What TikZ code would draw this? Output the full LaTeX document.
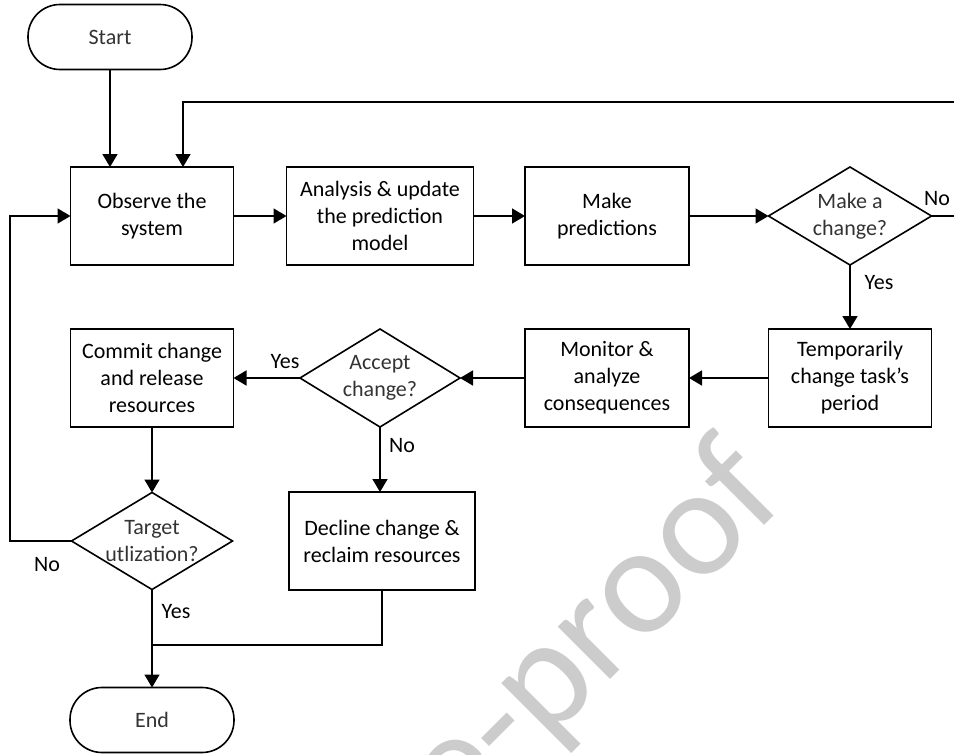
\documentclass[tikz,border=0pt]{standalone}
\usepackage{fontspec}
\setmainfont{Carlito}
\usetikzlibrary{arrows.meta,shapes.geometric}
\begin{document}
\begin{tikzpicture}[x=1pt,y=-1pt,
  line width=1.6pt,
  txt/.style={font=\fontsize{22}{27}\selectfont},
  box/.style={draw, txt, align=center, minimum height=98pt, inner sep=0pt, outer sep=0pt},
  term/.style={draw, txt, text=black!80, rounded corners=32pt, minimum width=164pt, minimum height=65pt, inner sep=0pt, outer sep=0pt},
  dec/.style={draw, diamond, minimum width=163pt, minimum height=98pt, inner sep=0pt, outer sep=0pt},
  dectext/.style={txt, text=black!80, align=center},
  lab/.style={txt, inner sep=0pt},
  arr/.style={-{Triangle[length=13pt,width=15pt]}}
]
\useasboundingbox (0,0) rectangle (954,755);
% watermark
\begin{scope}
\clip (0,0) rectangle (954,755);
\node[rotate=45, anchor=base east, text=black!20, inner sep=0pt, font=\fontsize{155}{155}\selectfont] (wm) at (790,500) {e-proof};
\end{scope}

\node[term] (start) at (110,37) {Start};
\node[box, minimum width=163pt] (obs) at (152,216) {Observe the\\system};
\node[box, minimum width=187pt] (ana) at (380,216) {Analysis \& update\\the prediction\\model};
\node[box, minimum width=164pt] (pred) at (607,216) {Make\\predictions};
\node[dec, label={[dectext]center:Make a\\change?}] (mc) at (850,216) {};
\node[box, minimum width=163pt] (temp) at (850,378) {Temporarily\\change task’s\\period};
\node[box, minimum width=164pt] (mon) at (607,378) {Monitor \&\\analyze\\consequences};
\node[dec, minimum width=160pt, label={[dectext]center:Accept\\change?}] (acc) at (380,378) {};
\node[box, minimum width=163pt] (com) at (152,378) {Commit change\\and release\\resources};
\node[box, minimum width=186pt] (decl) at (382,541) {Decline change \&\\reclaim resources};
\node[dec, minimum width=161pt, minimum height=97pt, label={[dectext]center:Target\\utlization?}] (tg) at (152,541) {};
\node[term] (end) at (152,720) {End};

\coordinate (rt) at (954,102);
\coordinate (rno) at (954,216);
\coordinate (lx) at (10,0);
\coordinate (join) at (152,645);

\draw[arr] (start.south) -- (start.south |- obs.north);
\draw[arr] (rt) -| ([xshift=31pt]obs.north);
\draw[arr] (obs) -- (ana);
\draw[arr] (ana) -- (pred);
\draw[arr] (pred) -- (mc);
\draw (mc.east) -- (rno);
\draw[arr] (mc) -- (temp);
\draw[arr] (temp) -- (mon);
\draw[arr] (mon) -- (acc);
\draw[arr] (acc) -- (com);
\draw[arr] (acc) -- (acc.south |- decl.north);
\draw[arr] (com) -- (tg);
\draw[arr] (tg.west) -- (tg.west -| lx) |- (obs.west);
\draw[arr] (tg) -- (end);
\draw (decl.south) |- (join);

\node[lab] (l1) at (937,199) {No};
\node[lab] (l2) at (879,283) {Yes};
\node[lab] (l3) at (285,362) {Yes};
\node[lab] (l4) at (402,446) {No};
\node[lab] (l5) at (47,565) {No};
\node[lab] (l6) at (176,612) {Yes};
\end{tikzpicture}
\end{document}
